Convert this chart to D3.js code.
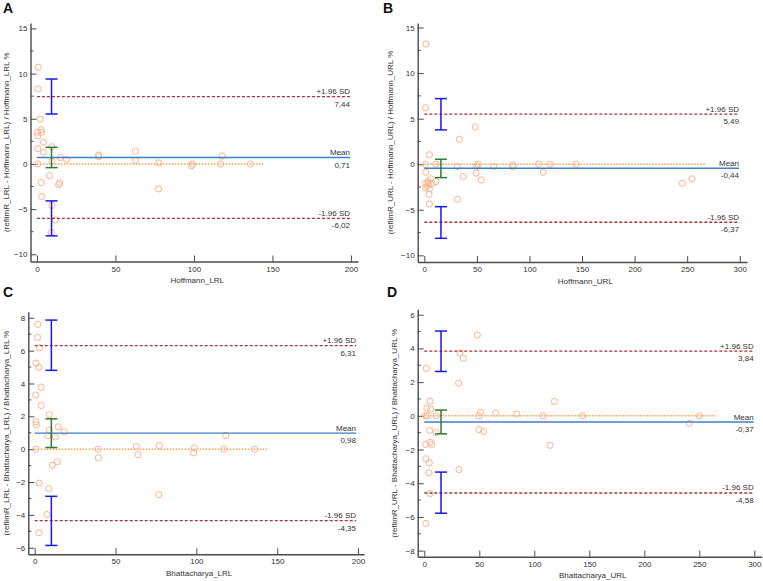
<!DOCTYPE html>
<html>
<head>
<meta charset="utf-8">
<script src="https://cdn.jsdelivr.net/npm/d3@7"></script>
<style>
  html, body { margin: 0; padding: 0; background: #fff; overflow: hidden; }
  svg { display: block; }
  svg text { font-family: "Liberation Sans", Arial, sans-serif; }
</style>
</head>
<body>
<svg id="chart" width="763" height="581"></svg>
<script>
// panel texts
const panelLetters = ["A", "B", "C", "D"];
const xTitles = ["Hoffmann_LRL", "Hoffmann_URL", "Bhattacharya_LRL", "Bhattacharya_URL"];
const yTitles = [
  "(reflimR_LRL - Hoffmann_LRL) / Hoffmann_LRL %",
  "(reflimR_URL - Hoffmann_URL) / Hoffmann_URL %",
  "(reflimR_LRL - Bhattacharya_LRL) / Bhattacharya_LRL %",
  "(reflimR_URL - Bhattacharya_URL) / Bhattacharya_URL %"
];

// tick labels
const xTicks = [
  [0, 50, 100, 150, 200],
  [0, 50, 100, 150, 200, 250, 300],
  [0, 50, 100, 150, 200],
  [0, 50, 100, 150, 200, 250, 300]
];
const yTicks = [
  [-10, -5, 0, 5, 10, 15],
  [-10, -5, 0, 5, 10, 15],
  [-6, -4, -2, 0, 2, 4, 6, 8],
  [-8, -6, -4, -2, 0, 2, 4, 6]
];
const yMinorStep = [2.5, 2.5, 1, 1];

// Bland-Altman statistics
const meanValues = [0.71, -0.44, 0.98, -0.37];
const upperLoA = [7.44, 5.49, 6.31, 3.84];
const lowerLoA = [-6.02, -6.37, -4.35, -4.58];
const meanCI = [[-0.41, 1.84], [-1.47, 0.55], [0.1, 1.85], [-1.07, 0.34]];
const upperCI = [[5.53, 9.4], [3.77, 7.2], [4.8, 7.86], [2.63, 5.03]];
const lowerCI = [[-7.96, -4.09], [-8.13, -4.66], [-5.86, -2.87], [-5.78, -3.34]];
const ciAt = [9.3, 15.8, 10.3, 15.2];
const zeroLineEnd = [144, 268, 144, 265];

// points: x = reference method value, y = % difference
const xA = [0.8, 0.6, 2.1, 2.7, 3.0, 0.4, 0.6, 4.2, 0.5, 4.2, 9.5, 9.5, 0.5, 8.0, 2.7, 13.8, 14.5, 3.0, 9.5, 11.7, 9.1, 15.0, 18.9, 39.3, 39.3, 62.8, 62.8, 77.7, 77.5, 99.0, 98.5, 118.0, 117.0, 136.0];
const yA = [10.7, 8.3, 4.96, 3.78, 3.5, 3.5, 3.1, 2.4, 1.7, 1.3, 1.9, 0.3, 0, -1.3, -2.06, -2.3, -2.1, -3.6, -4.6, -6.2, -7.6, 0.7, 0.5, 1.0, 0.8, 1.4, 0.4, 0.1, -2.76, 0, -0.2, 0.88, 0, 0];

const xB = [1.6, 1.2, 4.8, 1.0, 1.3, 10.8, 3.5, 6.0, 1.0, 4.0, 7.5, 11.0, 1.1, 4.7, 4.5, 4.8, 2.5, 31.3, 33.3, 31.6, 37.0, 48.5, 49.4, 50.0, 51.0, 54.0, 65.9, 84.0, 84.5, 108.6, 113.0, 119.4, 144.4, 245.4, 254.5];
const yB = [13.2, 6.2, 1.05, 0, -0.88, 0, -1.9, -1.6, -2.1, -2.1, -2.1, -1.9, -2.6, -2.7, -3.3, -4.36, -2.4, -0.25, 2.74, -3.85, -1.36, 4.1, -0.99, -0.25, 0, -1.72, -0.25, -0.1, -0.3, 0, -0.88, 0, 0, -2.1, -1.6];

const xC = [1.9, 1.8, 3.0, 0.8, 2.6, 4.0, 0.6, 4.0, 0.8, 1.0, 9.0, 9.0, 8.2, 12.8, 14.6, 18.3, 0.6, 10.9, 14.0, 2.8, 8.6, 7.6, 2.6, 39.2, 39.4, 62.9, 63.9, 77.1, 76.8, 98.8, 98.3, 118.2, 117.0, 136.1];
const yC = [7.6, 6.8, 6.18, 5.24, 4.98, 3.78, 3.3, 2.66, 1.67, 1.48, 2.1, 1.18, 0.83, 0.75, 1.36, 1.06, 0, -0.98, -0.77, -2.07, -2.4, -3.98, -5.08, 0, -0.53, 0.16, -0.33, 0.22, -2.77, 0.08, -0.22, 0.83, 0, 0];

const xD = [1.8, 2.4, 5.2, 5.8, 0.9, 2.7, 10.8, 4.8, 10.6, 1.2, 5.2, 6.7, 1.5, 4.5, 4.2, 5.2, 1.5, 31.2, 32.4, 35.5, 31.5, 48.2, 49.7, 51.2, 49.7, 54.0, 64.9, 84.0, 107.9, 114.3, 118.2, 144.0, 241.0, 250.0];
const yD = [2.81, 0.46, 0.87, 0.4, 0, 0, 0, -0.87, -1.0, -1.7, -1.58, -1.7, -2.55, -2.79, -3.38, -4.61, -6.39, 1.94, 3.72, 3.42, -3.19, 4.79, 0, 0.2, -0.81, -0.93, 0.16, 0.1, 0, -1.75, 0.85, 0, -0.44, 0];

const xData = [xA, xB, xC, xD];
const yData = [yA, yB, yC, yD];

// where each panel sits on the page
const layout = [
  {xDom: [-4.1, 204.5], xRng: [30.5, 358], yDom: [-10.8, 15.6], yRng: [261.5, 23], letter: [3, 13], yTitleX: 9},
  {xDom: [-6.3, 306.9], xRng: [417.7, 747], yDom: [-10.73, 15.5], yRng: [262, 23], letter: [383, 13], yTitleX: 393},
  {xDom: [-3.96, 203.7], xRng: [28.3, 364], yDom: [-6.4, 8.37], yRng: [554.3, 311.7], letter: [3, 297], yTitleX: 9},
  {xDom: [-6, 306.7], xRng: [417.7, 761.7], yDom: [-8.36, 6.32], yRng: [556.7, 309.3], letter: [387, 297], yTitleX: 397}
];

const svg = d3.select("#chart");
const axisColor = "#4a4a4a";
const fmt = v => v.toFixed(2).replace(".", ",");

function drawPanel(p) {
  const L = layout[p];
  const x = d3.scaleLinear().domain(L.xDom).range(L.xRng);
  const y = d3.scaleLinear().domain(L.yDom).range(L.yRng);
  const g = svg.append("g");

  // letter
  g.append("text").attr("x", L.letter[0]).attr("y", L.letter[1])
    .style("font-size", "14px").style("font-weight", "bold").attr("fill", "#111")
    .text(panelLetters[p]);

  // minor y ticks
  const ys = yTicks[p];
  const minor = d3.range(ys[0], ys[ys.length - 1] + 0.001, yMinorStep[p]).filter(v => ys.indexOf(v) < 0);
  g.selectAll(".minor").data(minor).enter().append("line")
    .attr("x1", L.xRng[0]).attr("x2", L.xRng[0] + 3)
    .attr("y1", d => y(d)).attr("y2", d => y(d))
    .attr("stroke", axisColor).attr("stroke-width", 1);

  // axes with inward ticks
  const yAxis = d3.axisLeft(y).tickValues(ys).tickSizeInner(-6).tickSizeOuter(0).tickPadding(3);
  const xAxis = d3.axisBottom(x).tickValues(xTicks[p]).tickSizeInner(-6).tickSizeOuter(0).tickPadding(4.5);

  const ya = g.append("g").attr("transform", "translate(" + L.xRng[0] + ",0)").call(yAxis);
  const xa = g.append("g").attr("transform", "translate(0," + L.yRng[0] + ")").call(xAxis);
  [ya, xa].forEach(a => {
    a.select(".domain").attr("stroke", axisColor).attr("stroke-width", 1.4);
    a.selectAll(".tick line").attr("stroke", axisColor).attr("stroke-width", 1);
    a.selectAll(".tick text").attr("fill", "#333").style("font-size", "8px")
      .style("font-family", "'Liberation Sans', Arial, sans-serif");
  });

  // axis titles
  g.append("text")
    .attr("x", (L.xRng[0] + L.xRng[1]) / 2 + 3).attr("y", L.yRng[0] + 21.5)
    .attr("text-anchor", "middle").style("font-size", "8px").attr("fill", "#333")
    .text(xTitles[p]);
  const yc = (L.yRng[0] + L.yRng[1]) / 2;
  g.append("text")
    .attr("transform", "translate(" + L.yTitleX + "," + yc + ") rotate(-90)")
    .attr("text-anchor", "middle").style("font-size", "8px").attr("fill", "#333")
    .text(yTitles[p]);

  const x0 = x(0), x1 = L.xRng[1] - 8;

  // zero line (orange dotted)
  g.append("line")
    .attr("x1", x0).attr("x2", x(zeroLineEnd[p]))
    .attr("y1", y(0)).attr("y2", y(0))
    .attr("stroke", "#f5a04a").attr("stroke-width", 1.4)
    .attr("stroke-dasharray", "1.5,1.5");

  // points
  g.selectAll(".pt").data(xData[p].map((v, i) => [v, yData[p][i]])).enter()
    .append("circle")
    .attr("cx", d => x(d[0])).attr("cy", d => y(d[1])).attr("r", 3.1)
    .attr("fill", "none").attr("stroke", "#f8b38e").attr("stroke-width", 1);

  // limits of agreement
  [upperLoA[p], lowerLoA[p]].forEach((v, k) => {
    g.append("line")
      .attr("x1", x0).attr("x2", x1).attr("y1", y(v)).attr("y2", y(v))
      .attr("stroke", "#a8343a").attr("stroke-width", 1.3)
      .attr("stroke-dasharray", "3,2");
    g.append("text").attr("x", x1).attr("y", y(v) - 2.5).attr("text-anchor", "end")
      .style("font-size", "8px").attr("fill", "#333")
      .text(k === 0 ? "+1.96 SD" : "-1.96 SD");
    g.append("text").attr("x", x1).attr("y", y(v) + 10).attr("text-anchor", "end")
      .style("font-size", "8px").attr("fill", "#333").text(fmt(v));
  });

  // mean line
  g.append("line")
    .attr("x1", x0).attr("x2", x1).attr("y1", y(meanValues[p])).attr("y2", y(meanValues[p]))
    .attr("stroke", "#3f7fc4").attr("stroke-width", 1.4);
  g.append("text").attr("x", x1).attr("y", y(meanValues[p]) - 2.5).attr("text-anchor", "end")
    .style("font-size", "8px").attr("fill", "#333").text("Mean");
  g.append("text").attr("x", x1).attr("y", y(meanValues[p]) + 10).attr("text-anchor", "end")
    .style("font-size", "8px").attr("fill", "#333").text(fmt(meanValues[p]));

  // confidence interval bars
  const cx = x(ciAt[p]);
  [[upperCI[p], "#1a1ae6"], [meanCI[p], "#2e7d2e"], [lowerCI[p], "#1a1ae6"]].forEach(c => {
    const ci = c[0], col = c[1];
    g.append("line").attr("x1", cx).attr("x2", cx).attr("y1", y(ci[0])).attr("y2", y(ci[1]))
      .attr("stroke", col).attr("stroke-width", 1.5);
    ci.forEach(v => {
      g.append("line").attr("x1", cx - 6).attr("x2", cx + 6).attr("y1", y(v)).attr("y2", y(v))
        .attr("stroke", col).attr("stroke-width", 1.5);
    });
  });
}

for (let p = 0; p < 4; p++) drawPanel(p);
</script>
</body>
</html>
